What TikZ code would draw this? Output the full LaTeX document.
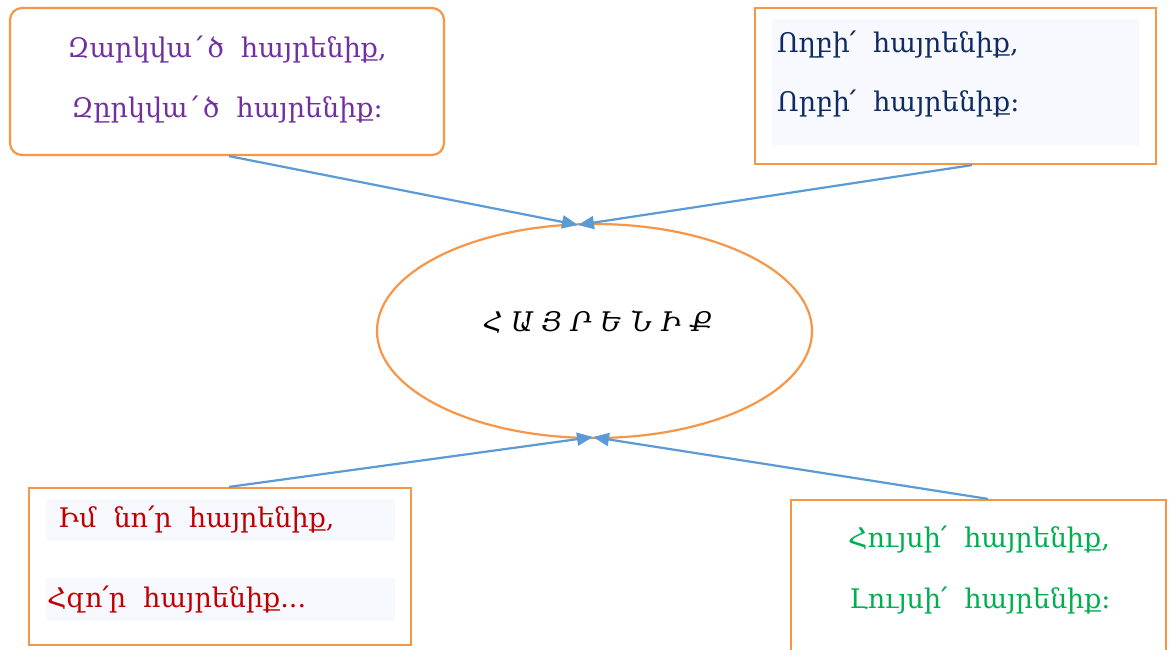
\documentclass[tikz,border=0pt]{standalone}
\usepackage{fontspec}
\setmainfont{DejaVu Serif}
\usetikzlibrary{shapes.geometric,arrows.meta}
\definecolor{orng}{HTML}{F79646}
\definecolor{blu}{HTML}{5B9BD5}
\definecolor{purp}{HTML}{7030A0}
\definecolor{navy}{HTML}{0F2B63}
\definecolor{redd}{HTML}{C00000}
\definecolor{grn}{HTML}{00B050}
\definecolor{shade}{HTML}{F7F9FE}
\newcommand{\emk}{\,՛\,}
\begin{document}
\begin{tikzpicture}[x=1pt,y=-1pt,
  frame/.style={draw=orng, line width=2.2pt, inner sep=0pt},
  conn/.style={draw=blu, line width=2.2pt, -{Triangle[length=16pt,width=13pt]}},
  shadebox/.style={fill=shade, draw=none, inner sep=0pt},
  txt/.style={font=\fontsize{27}{30}\selectfont, inner sep=0pt}]
\useasboundingbox (0,0) rectangle (1173,649);
\clip (0,0) rectangle (1173,649);
\fill[white] (0,0) rectangle (1173,649);
% boxes
\node[frame, rounded corners=12pt, minimum width=434pt, minimum height=147pt] (b1) at (227,81.5) {};
\node[frame, minimum width=401pt, minimum height=156pt] (b2) at (955.5,86) {};
\node[shadebox, minimum width=367pt, minimum height=126pt] (s2) at (955.5,82) {};
\node[draw=orng, line width=2.2pt, ellipse, minimum width=435pt, minimum height=214pt, inner sep=0pt] (e) at (594.5,331) {};
\node[frame, minimum width=382pt, minimum height=157pt] (b4) at (220,566.5) {};
\node[shadebox, minimum width=349pt, minimum height=42pt] (s41) at (220.5,520) {};
\node[shadebox, minimum width=349pt, minimum height=43pt] (s42) at (220.5,599.5) {};
\node[frame, minimum width=375pt, minimum height=160pt] (b5) at (978.5,580) {};
% texts
\node[txt, text=purp] (t11) at (227,50) {Զարկվա\emk ծ\ \ հայրենիք,};
\node[txt, text=purp] (t12) at (227,110) {Զըրկվա\emk ծ\ \ հայրենիք։};
\node[txt, text=navy, anchor=west] (t21) at (777,45) {Ողբի՛\ \ հայրենիք,};
\node[txt, text=navy, anchor=west] (t22) at (777,104) {Որբի՛\ \ հայրենիք։};
\node[txt, font=\fontsize{27}{30}\selectfont\itshape] (tc) at (598,322) {Հ Ա Յ Ր Ե Ն Ի Ք};
\node[txt, text=redd, anchor=west] (t41) at (58,520) {Իմ\ \ նո՛ր\ \ հայրենիք,};
\node[txt, text=redd, anchor=west] (t42) at (47,600) {Հզո՛ր\ \ հայրենիք...};
\node[txt, text=grn] (t51) at (979,540) {Հույսի՛\ \ հայրենիք,};
\node[txt, text=grn] (t52) at (980,601) {Լույսի՛\ \ հայրենիք։};
% connectors
\coordinate (et) at (578,225);
\coordinate (eb) at (593,437);
\draw[conn] ([xshift=2pt]b1.south) -- (et);
\draw[conn] ([xshift=16.5pt]b2.south) -- (et);
\draw[conn] ([xshift=9pt]b4.north) -- (eb);
\draw[conn] ([xshift=9.5pt]b5.north) -- (eb);
\end{tikzpicture}
\end{document}
